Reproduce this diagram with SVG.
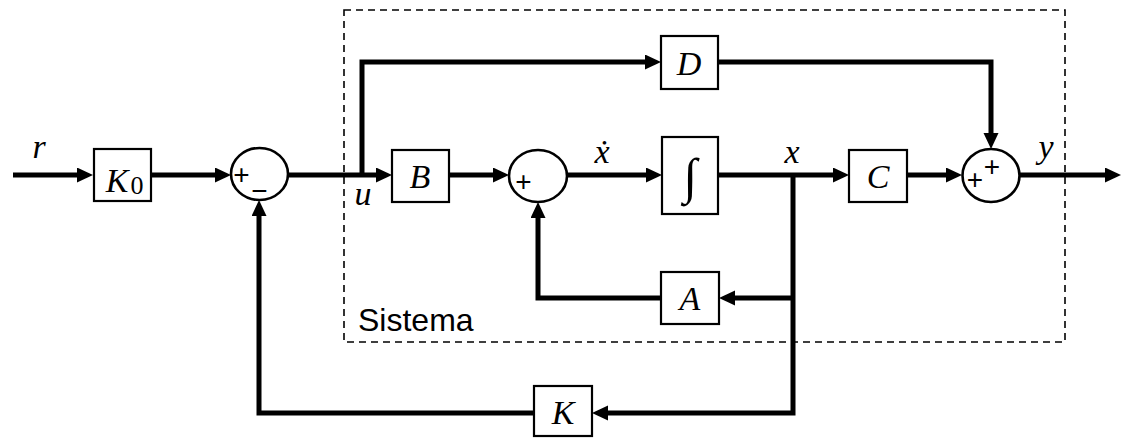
<svg xmlns="http://www.w3.org/2000/svg" width="1122" height="438" viewBox="0 0 1122 438">
<style>
.blk{fill:#fff;stroke:#000;stroke-width:2.2}
.sum{fill:#fff;stroke:#000;stroke-width:2.6}
.ln{fill:none;stroke:#000;stroke-width:5;stroke-linejoin:miter}
.dash{fill:none;stroke:#000;stroke-width:1.6;stroke-dasharray:7,5}
.m{font-family:"Liberation Serif","DejaVu Serif",serif;font-style:italic;font-size:34px;text-anchor:middle;fill:#000}
.up{font-family:"Liberation Serif","DejaVu Serif",serif;font-size:34px;text-anchor:middle;fill:#000}
.sg{font-family:"Liberation Sans","DejaVu Sans",sans-serif;font-size:28px;text-anchor:middle;fill:#000}
.lbl{font-family:"Liberation Sans",Arial,sans-serif;font-size:32px;fill:#000}
</style>
<defs>
<marker id="ar" markerUnits="userSpaceOnUse" markerWidth="18" markerHeight="16" refX="2" refY="7.5" orient="auto">
<path d="M0,0 L16,7.5 L0,15 z" fill="#000"/>
</marker>
</defs>
<rect id="sistema" class="dash" x="344" y="10" width="721" height="332"/>
<text class="lbl" x="358" y="331">Sistema</text>
<g id="connectors">
<path class="ln" d="M13,175 H79" marker-end="url(#ar)"/>
<path class="ln" d="M151,175 H217" marker-end="url(#ar)"/>
<path class="ln" d="M288,175 H378" marker-end="url(#ar)"/>
<path class="ln" d="M362,175 V62 H647" marker-end="url(#ar)"/>
<path class="ln" d="M449,175 H495" marker-end="url(#ar)"/>
<path class="ln" d="M567,175 H648" marker-end="url(#ar)"/>
<path class="ln" d="M718,175 H835" marker-end="url(#ar)"/>
<path class="ln" d="M907,175 H948" marker-end="url(#ar)"/>
<path class="ln" d="M1020,175 H1107" marker-end="url(#ar)"/>
<path class="ln" d="M718,62 H991 V135" marker-end="url(#ar)"/>
<path class="ln" d="M793,175 V413 H606" marker-end="url(#ar)"/>
<path class="ln" d="M793,298 H733" marker-end="url(#ar)"/>
<path class="ln" d="M661,298 H538 V216" marker-end="url(#ar)"/>
<path class="ln" d="M534,413 H259 V214" marker-end="url(#ar)"/>
</g>
<g id="K0">
<rect class="blk" x="94" y="149" width="57" height="52"/>
<text class="m" x="117" y="192">K</text>
<text class="up" x="137" y="194" style="font-size:26px">0</text>
</g>
<g id="sum1">
<ellipse class="sum" cx="259.5" cy="174" rx="28.5" ry="26"/>
<text class="sg" x="241.5" y="184">+</text>
<text class="sg" x="259.5" y="200">−</text>
</g>
<g id="B">
<rect class="blk" x="392" y="150" width="57" height="52"/>
<text class="m" x="420" y="188">B</text>
</g>
<g id="sum2">
<ellipse class="sum" cx="538" cy="176" rx="29" ry="26"/>
<text class="sg" x="523.5" y="191">+</text>
</g>
<g id="integ">
<rect class="blk" x="662" y="137" width="56" height="77"/>
<text class="up" x="690" y="193" style="font-size:50px">∫</text>
</g>
<g id="C">
<rect class="blk" x="849" y="150" width="58" height="52"/>
<text class="m" x="878" y="188">C</text>
</g>
<g id="sum3">
<ellipse class="sum" cx="991" cy="175.5" rx="28.5" ry="26.5"/>
<text class="sg" x="975" y="189">+</text>
<text class="sg" x="992" y="176">+</text>
</g>
<g id="D">
<rect class="blk" x="661" y="36" width="57" height="53"/>
<text class="m" x="689" y="75">D</text>
</g>
<g id="A">
<rect class="blk" x="661" y="272" width="58" height="52"/>
<text class="m" x="690" y="310">A</text>
</g>
<g id="K">
<rect class="blk" x="534" y="386" width="58" height="50"/>
<text class="m" x="563" y="424">K</text>
</g>
<g id="labels">
<text class="m" x="39" y="158">r</text>
<text class="m" x="363" y="205">u</text>
<text class="m" x="602" y="163">ẋ</text>
<text class="m" x="792" y="163">x</text>
<text class="m" x="1046" y="158">y</text>
</g>
</svg>
